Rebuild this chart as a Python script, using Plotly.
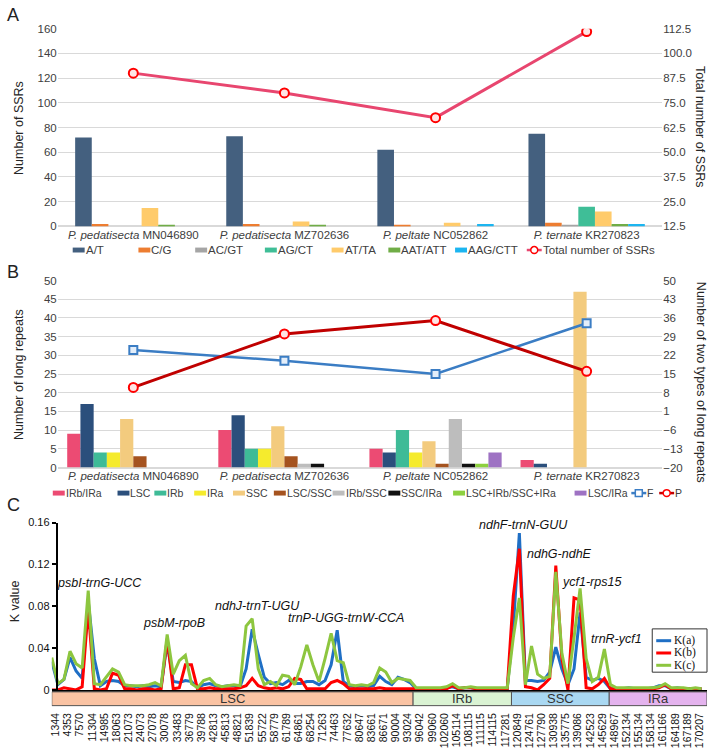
import plotly.graph_objects as go

W, H = 708, 751

# ---------------- data ----------------
species = ["P. pedatisecta", "P. pedatisecta", "P. peltate", "P. ternate"]
accessions = ["MN046890", "MZ702636", "NC052862", "KR270823"]

ssr_types = ["A/T", "C/G", "AC/GT", "AG/CT", "AT/TA", "AAT/ATT", "AAG/CTT"]
ssr_counts = [
    [72, 73, 62, 75],   # A/T
    [2, 2, 1, 3],       # C/G
    [0, 0, 0, 1],       # AC/GT
    [0, 0, 0, 16],      # AG/CT
    [15, 4, 3, 12],     # AT/TA
    [1, 1, 0, 2],       # AAT/ATT
    [0, 0, 2, 2],       # AAG/CTT
]
ssr_total = [90, 80, 67.5, 111]

repeat_types = ["IRb/IRa", "LSC", "IRb", "IRa", "SSC", "LSC/SSC", "IRb/SSC",
                "SSC/IRa", "LSC+IRb/SSC+IRa", "LSC/IRa"]
repeat_counts = [
    [9, 10, 5, 2],
    [17, 14, 4, 1],
    [4, 5, 10, 0],
    [4, 5, 4, 0],
    [13, 11, 7, 47],
    [3, 3, 1, 0],
    [0, 1, 13, 0],
    [0, 1, 1, 0],
    [0, 0, 1, 0],
    [0, 0, 4, 0],
]
repeat_F = [24, 20, 15, 34]
repeat_P = [10, 30, 35, 16]

k_ticklabels = ["1344", "4353", "7570", "11304", "14985", "18063", "21073", "24073",
                "27078", "30078", "33483", "36779", "39788", "42813", "45813", "48821",
                "51839", "55722", "58779", "61789", "64861", "68254", "71263", "74463",
                "77632", "80647", "83661", "86671", "90004", "93024", "96042", "99060",
                "102060", "105114", "108115", "111115", "114115", "117281", "120849",
                "124761", "127790", "130938", "135775", "139086", "142523", "145629",
                "148967", "152134", "155134", "158134", "161166", "164189", "167189",
                "170207"]

Ka = [0.027, 0.005, 0.010, 0.031, 0.018, 0.011, 0.085, 0.030, 0.004, 0.008,
      0.009, 0.008, 0.004, 0.004, 0.003, 0.004, 0.003, 0.004, 0.003, 0.045,
      0.008, 0.007, 0.009, 0.008, 0.002, 0.005, 0.006, 0.004, 0.003, 0.004,
      0.004, 0.003, 0.020, 0.058, 0.034, 0.012, 0.006, 0.007, 0.005, 0.009,
      0.006, 0.006, 0.008, 0.008, 0.005, 0.009, 0.024, 0.057, 0.008, 0.004,
      0.003, 0.004, 0.003, 0.004, 0.013, 0.008, 0.005, 0.012, 0.010, 0.007,
      0.001, 0.001, 0.001, 0.001, 0.001, 0.002, 0.003, 0.001, 0.002, 0.002,
      0.001, 0.001, 0.001, 0.001, 0.001, 0.001, 0.060, 0.150, 0.009, 0.009,
      0.008, 0.009, 0.017, 0.041, 0.020, 0.005, 0.020, 0.074, 0.012, 0.009,
      0.011, 0.008, 0.001, 0.001, 0.001, 0.002, 0.001, 0.001, 0.001, 0.002,
      0.004, 0.004, 0.001, 0.002, 0.001, 0.001, 0.001, 0.001]
Kb = [0.000, 0.000, 0.002, 0.001, 0.000, 0.003, 0.078, 0.001, 0.000, 0.001,
      0.016, 0.014, 0.001, 0.001, 0.000, 0.001, 0.001, 0.000, 0.001, 0.049,
      0.001, 0.002, 0.024, 0.024, 0.001, 0.001, 0.002, 0.001, 0.001, 0.001,
      0.001, 0.002, 0.004, 0.011, 0.004, 0.002, 0.001, 0.002, 0.001, 0.003,
      0.011, 0.010, 0.001, 0.001, 0.001, 0.001, 0.007, 0.009, 0.006, 0.001,
      0.001, 0.001, 0.001, 0.001, 0.002, 0.001, 0.001, 0.001, 0.001, 0.001,
      0.001, 0.001, 0.001, 0.001, 0.001, 0.001, 0.004, 0.001, 0.002, 0.002,
      0.001, 0.001, 0.001, 0.001, 0.001, 0.001, 0.090, 0.135, 0.003, 0.002,
      0.000, 0.005, 0.011, 0.119, 0.030, 0.000, 0.088, 0.086, 0.002, 0.001,
      0.005, 0.011, 0.001, 0.001, 0.001, 0.001, 0.001, 0.001, 0.001, 0.001,
      0.002, 0.005, 0.001, 0.001, 0.001, 0.001, 0.001, 0.001]
Kc = [0.031, 0.006, 0.010, 0.037, 0.025, 0.021, 0.095, 0.006, 0.005, 0.012,
      0.020, 0.017, 0.005, 0.004, 0.004, 0.004, 0.005, 0.007, 0.004, 0.053,
      0.015, 0.028, 0.033, 0.006, 0.002, 0.009, 0.011, 0.005, 0.003, 0.004,
      0.005, 0.004, 0.061, 0.068, 0.020, 0.005, 0.008, 0.004, 0.014, 0.013,
      0.005, 0.022, 0.043, 0.024, 0.008, 0.030, 0.054, 0.028, 0.026, 0.005,
      0.004, 0.005, 0.004, 0.007, 0.021, 0.017, 0.007, 0.011, 0.010, 0.009,
      0.002, 0.002, 0.002, 0.002, 0.002, 0.003, 0.006, 0.002, 0.002, 0.003,
      0.002, 0.002, 0.002, 0.002, 0.002, 0.002, 0.050, 0.088, 0.005, 0.042,
      0.015, 0.011, 0.013, 0.113, 0.035, 0.006, 0.050, 0.097, 0.030, 0.008,
      0.012, 0.039, 0.005, 0.002, 0.002, 0.002, 0.002, 0.002, 0.002, 0.002,
      0.003, 0.006, 0.002, 0.002, 0.002, 0.001, 0.002, 0.001]

regions = ["LSC", "IRb", "SSC", "IRa"]
region_bounds = [0, 59.5, 75.7, 91.8, 107.9]   # in window index

genes = ["psbI-trnG-UCC", "psbM-rpoB", "ndhJ-trnT-UGU", "trnP-UGG-trnW-CCA",
         "ndhF-trnN-GUU", "ndhG-ndhE", "ycf1-rps15", "trnR-ycf1"]
gene_pos = [7.9, 20.2, 33.9, 48.4, 77.7, 83.6, 88.9, 93.0]
gene_k = [0.102, 0.064, 0.080, 0.069, 0.158, 0.130, 0.1035, 0.049]

# ---------------- styles ----------------
ssr_colors = ["#44607F", "#ED7D31", "#A5A5A5", "#3FBE97", "#FFCB6B", "#70AD47", "#1CB5F0"]
rep_colors = ["#EC4B73", "#2B4F7C", "#3EBB97", "#F5EB2D", "#F3CB7E", "#A5531F",
              "#BDBDBD", "#111111", "#8DD03F", "#9E72C3"]
k_colors = ["#1F6FC5", "#FF0000", "#8DC63F"]
region_colors = ["#FAC3A3", "#DAF3D3", "#A9D8F2", "#E4B3EE"]
TXT = "#404040"
FONT = "Arial, Liberation Sans, sans-serif"

cats = [f"<i>{s}</i> {a}" for s, a in zip(species, accessions)]
x_idx = list(range(len(Ka)))


def pxx(x):
    return x / W


def pyy(y):
    return 1 - y / H


fig = go.Figure()

# Panel A bars
wa = 0.11
for j, (name, vals) in enumerate(zip(ssr_types, ssr_counts)):
    fig.add_trace(go.Bar(x=cats, y=vals, xaxis="x", yaxis="y", name=name,
                         marker=dict(color=ssr_colors[j], line=dict(width=0)),
                         width=wa, offset=-3.5 * wa + j * wa, showlegend=False))
fig.add_trace(go.Scatter(x=cats, y=ssr_total, xaxis="x", yaxis="y2", mode="lines+markers",
                         line=dict(color="#E8466F", width=3),
                         marker=dict(symbol="circle", size=9, color="#FFE5E5",
                                     line=dict(color="#FF0000", width=2)),
                         showlegend=False))

# Panel B bars
wb = 0.0875
for j, (name, vals) in enumerate(zip(repeat_types, repeat_counts)):
    fig.add_trace(go.Bar(x=cats, y=vals, xaxis="x2", yaxis="y3", name=name,
                         marker=dict(color=rep_colors[j], line=dict(width=0)),
                         width=wb, offset=-5 * wb + j * wb, showlegend=False))
fig.add_trace(go.Scatter(x=cats, y=repeat_F, xaxis="x2", yaxis="y4", mode="lines+markers",
                         line=dict(color="#3B7DC4", width=2.5),
                         marker=dict(symbol="square", size=8, color="#E3EEFA",
                                     line=dict(color="#3B7DC4", width=2)),
                         showlegend=False))
fig.add_trace(go.Scatter(x=cats, y=repeat_P, xaxis="x2", yaxis="y4", mode="lines+markers",
                         line=dict(color="#C00000", width=3),
                         marker=dict(symbol="circle", size=9, color="#FFE5E5",
                                     line=dict(color="#FF0000", width=2)),
                         showlegend=False))

# Panel C lines
for ys, col in zip([Ka, Kb, Kc], k_colors):
    fig.add_trace(go.Scatter(x=x_idx, y=ys, xaxis="x3", yaxis="y5", mode="lines",
                             line=dict(color=col, width=3), showlegend=False))

shapes = []
annotations = []

# region bar
for name, c, a, b in zip(regions, region_colors, region_bounds[:-1], region_bounds[1:]):
    shapes.append(dict(type="rect", xref="x3", yref="paper", x0=a, x1=b,
                       y0=pyy(711), y1=pyy(697), fillcolor=c,
                       line=dict(color="#555555", width=1)))
    annotations.append(dict(xref="x3", yref="paper", x=(a + b) / 2, y=pyy(704), text=name,
                            xanchor="center", yanchor="middle",
                            showarrow=False, font=dict(size=13, color="#333333")))

for g, gx, gy in zip(genes, gene_pos, gene_k):
    annotations.append(dict(xref="x3", yref="y5", x=gx, y=gy, text=f"<i>{g}</i>",
                            xanchor="center", yanchor="middle",
                            showarrow=False, font=dict(size=12.5, color="#111111")))

# panel letters
for letter, yy in [("A", 9), ("B", 270), ("C", 507)]:
    annotations.append(dict(xref="paper", yref="paper", x=pxx(2), y=pyy(yy), text=letter,
                            xanchor="left", yanchor="middle", showarrow=False,
                            font=dict(size=18, color="#222222")))

# axis titles
for txt, x, y, ang in [("Number of SSRs", 16, 124, -90),
                       ("Total number of SSRs", 700, 123, 90),
                       ("Number of long repeats", 16, 374, -90),
                       ("Number of two types of long repeats", 701, 382, 90),
                       ("K value", 12, 605, -90)]:
    annotations.append(dict(xref="paper", yref="paper", x=pxx(x), y=pyy(y), text=txt,
                            textangle=ang, xanchor="center", yanchor="middle", showarrow=False,
                            font=dict(size=12.5, color="#262626")))


def rect_key(x, y, col):
    shapes.append(dict(type="rect", xref="paper", yref="paper", x0=pxx(x), x1=pxx(x + 12),
                       y0=pyy(y + 2.5), y1=pyy(y - 2.5), fillcolor=col, line=dict(width=0)))


def line_key(x, y, col, lcol, symbol):
    shapes.append(dict(type="line", xref="paper", yref="paper", x0=pxx(x), x1=pxx(x + 15),
                       y0=pyy(y), y1=pyy(y), line=dict(color=col, width=2.5)))
    shapes.append(dict(type=symbol, xref="paper", yref="paper", x0=pxx(x + 4), x1=pxx(x + 11),
                       y0=pyy(y + 3.5), y1=pyy(y - 3.5), fillcolor="#FFFFFF",
                       line=dict(color=lcol, width=1.5)))


def key_text(x, y, txt, size):
    annotations.append(dict(xref="paper", yref="paper", x=pxx(x), y=pyy(y), text=txt,
                            xanchor="left", yanchor="middle", showarrow=False,
                            borderpad=0, font=dict(size=size, color=TXT)))


# legend A
legA_x = [70, 136, 193, 263, 330, 387, 454]
for name, col, x in zip(ssr_types, ssr_colors, legA_x):
    rect_key(x, 248, col)
    key_text(x + 12, 248, name, 11.5)
line_key(526, 248, "#E8466F", "#FF0000", "circle")
key_text(541, 248, "Total number of SSRs", 11.5)

# legend B
legB_x = [50, 115, 152, 192, 231, 272, 331, 387, 452, 574]
for name, col, x in zip(repeat_types, rep_colors, legB_x):
    rect_key(x, 495, col)
    key_text(x + 12, 495, name, 10.5)
line_key(631, 495, "#3B7DC4", "#3B7DC4", "rect")
key_text(646, 495, "F", 10.5)
line_key(659, 495, "#C00000", "#FF0000", "circle")
key_text(674, 495, "P", 10.5)

# legend C
shapes.append(dict(type="rect", xref="paper", yref="paper", x0=pxx(652), x1=pxx(707),
                   y0=pyy(677), y1=pyy(633), fillcolor="white", line=dict(color="#333333", width=1)))
for name, col, y in zip(["K(a)", "K(b)", "K(c)"], k_colors, [645, 657.5, 670]):
    shapes.append(dict(type="line", xref="paper", yref="paper", x0=pxx(656), x1=pxx(671),
                       y0=pyy(y), y1=pyy(y), line=dict(color=col, width=3)))
    annotations.append(dict(xref="paper", yref="paper", x=pxx(673), y=pyy(y), text=name,
                            xanchor="left", yanchor="middle", showarrow=False, borderpad=0,
                            font=dict(size=11.5, color="#111111",
                                      family="Liberation Serif, Times New Roman, serif")))

grid = "#D9D9D9"
tickA = dict(size=11.5, color=TXT)

fig.update_layout(
    width=W, height=H, margin=dict(l=0, r=0, t=0, b=0),
    paper_bgcolor="white", plot_bgcolor="white",
    font=dict(family=FONT, color=TXT),
    barmode="overlay",
    xaxis=dict(domain=[pxx(55), pxx(662)], anchor="y", type="category",
               showgrid=False, showline=False, ticks="", tickfont=tickA),
    yaxis=dict(domain=[pyy(224), pyy(23)], range=[0, 160], dtick=20, gridcolor=grid,
               zeroline=True, zerolinecolor=grid, ticks="", tickfont=dict(size=11.5, color=TXT)),
    yaxis2=dict(overlaying="y", side="right", anchor="x", range=[12.5, 112.5], tick0=12.5,
                dtick=12.5, tickformat=".1f", showgrid=False, zeroline=False,
                tickfont=dict(size=11.5, color=TXT)),
    xaxis2=dict(domain=[pxx(55), pxx(662)], anchor="y3", type="category",
                showgrid=False, showline=False, ticks="", tickfont=tickA),
    yaxis3=dict(domain=[pyy(469), pyy(279)], range=[0, 50], dtick=5, gridcolor=grid,
                zeroline=True, zerolinecolor=grid, ticks="", tickfont=dict(size=11.5, color=TXT)),
    yaxis4=dict(overlaying="y3", side="right", anchor="x2", range=[-20, 50], tick0=-20, dtick=7,
                showgrid=False, zeroline=False, tickfont=dict(size=11.5, color=TXT)),
    xaxis3=dict(domain=[pxx(49), pxx(707)], anchor="y5", range=[0, 107.9],
                tickvals=[0.65 + 2 * k for k in range(len(k_ticklabels))], ticktext=k_ticklabels,
                tickangle=-90, showgrid=False, zeroline=False, showline=True,
                linecolor="black", linewidth=2, ticks="", ticklabelstandoff=17,
                tickfont=dict(size=10.5, color="#111111")),
    yaxis5=dict(domain=[pyy(695), pyy(525)], range=[0, 0.16],
                tickvals=[0, 0.04, 0.08, 0.12, 0.16], ticktext=["0", "0.04", "0.08", "0.12", "0.16"],
                showgrid=False, zeroline=False, showline=True, linecolor="black", linewidth=2,
                ticks="outside", ticklen=4, tickwidth=1.5, tickcolor="black",
                tickfont=dict(size=11, color="#111111")),
    shapes=shapes, annotations=annotations, showlegend=False,
)

fig.write_html("out.html", config={"displayModeBar": False},
               post_script="document.body.style.margin='0px';document.body.style.overflow='hidden';")
